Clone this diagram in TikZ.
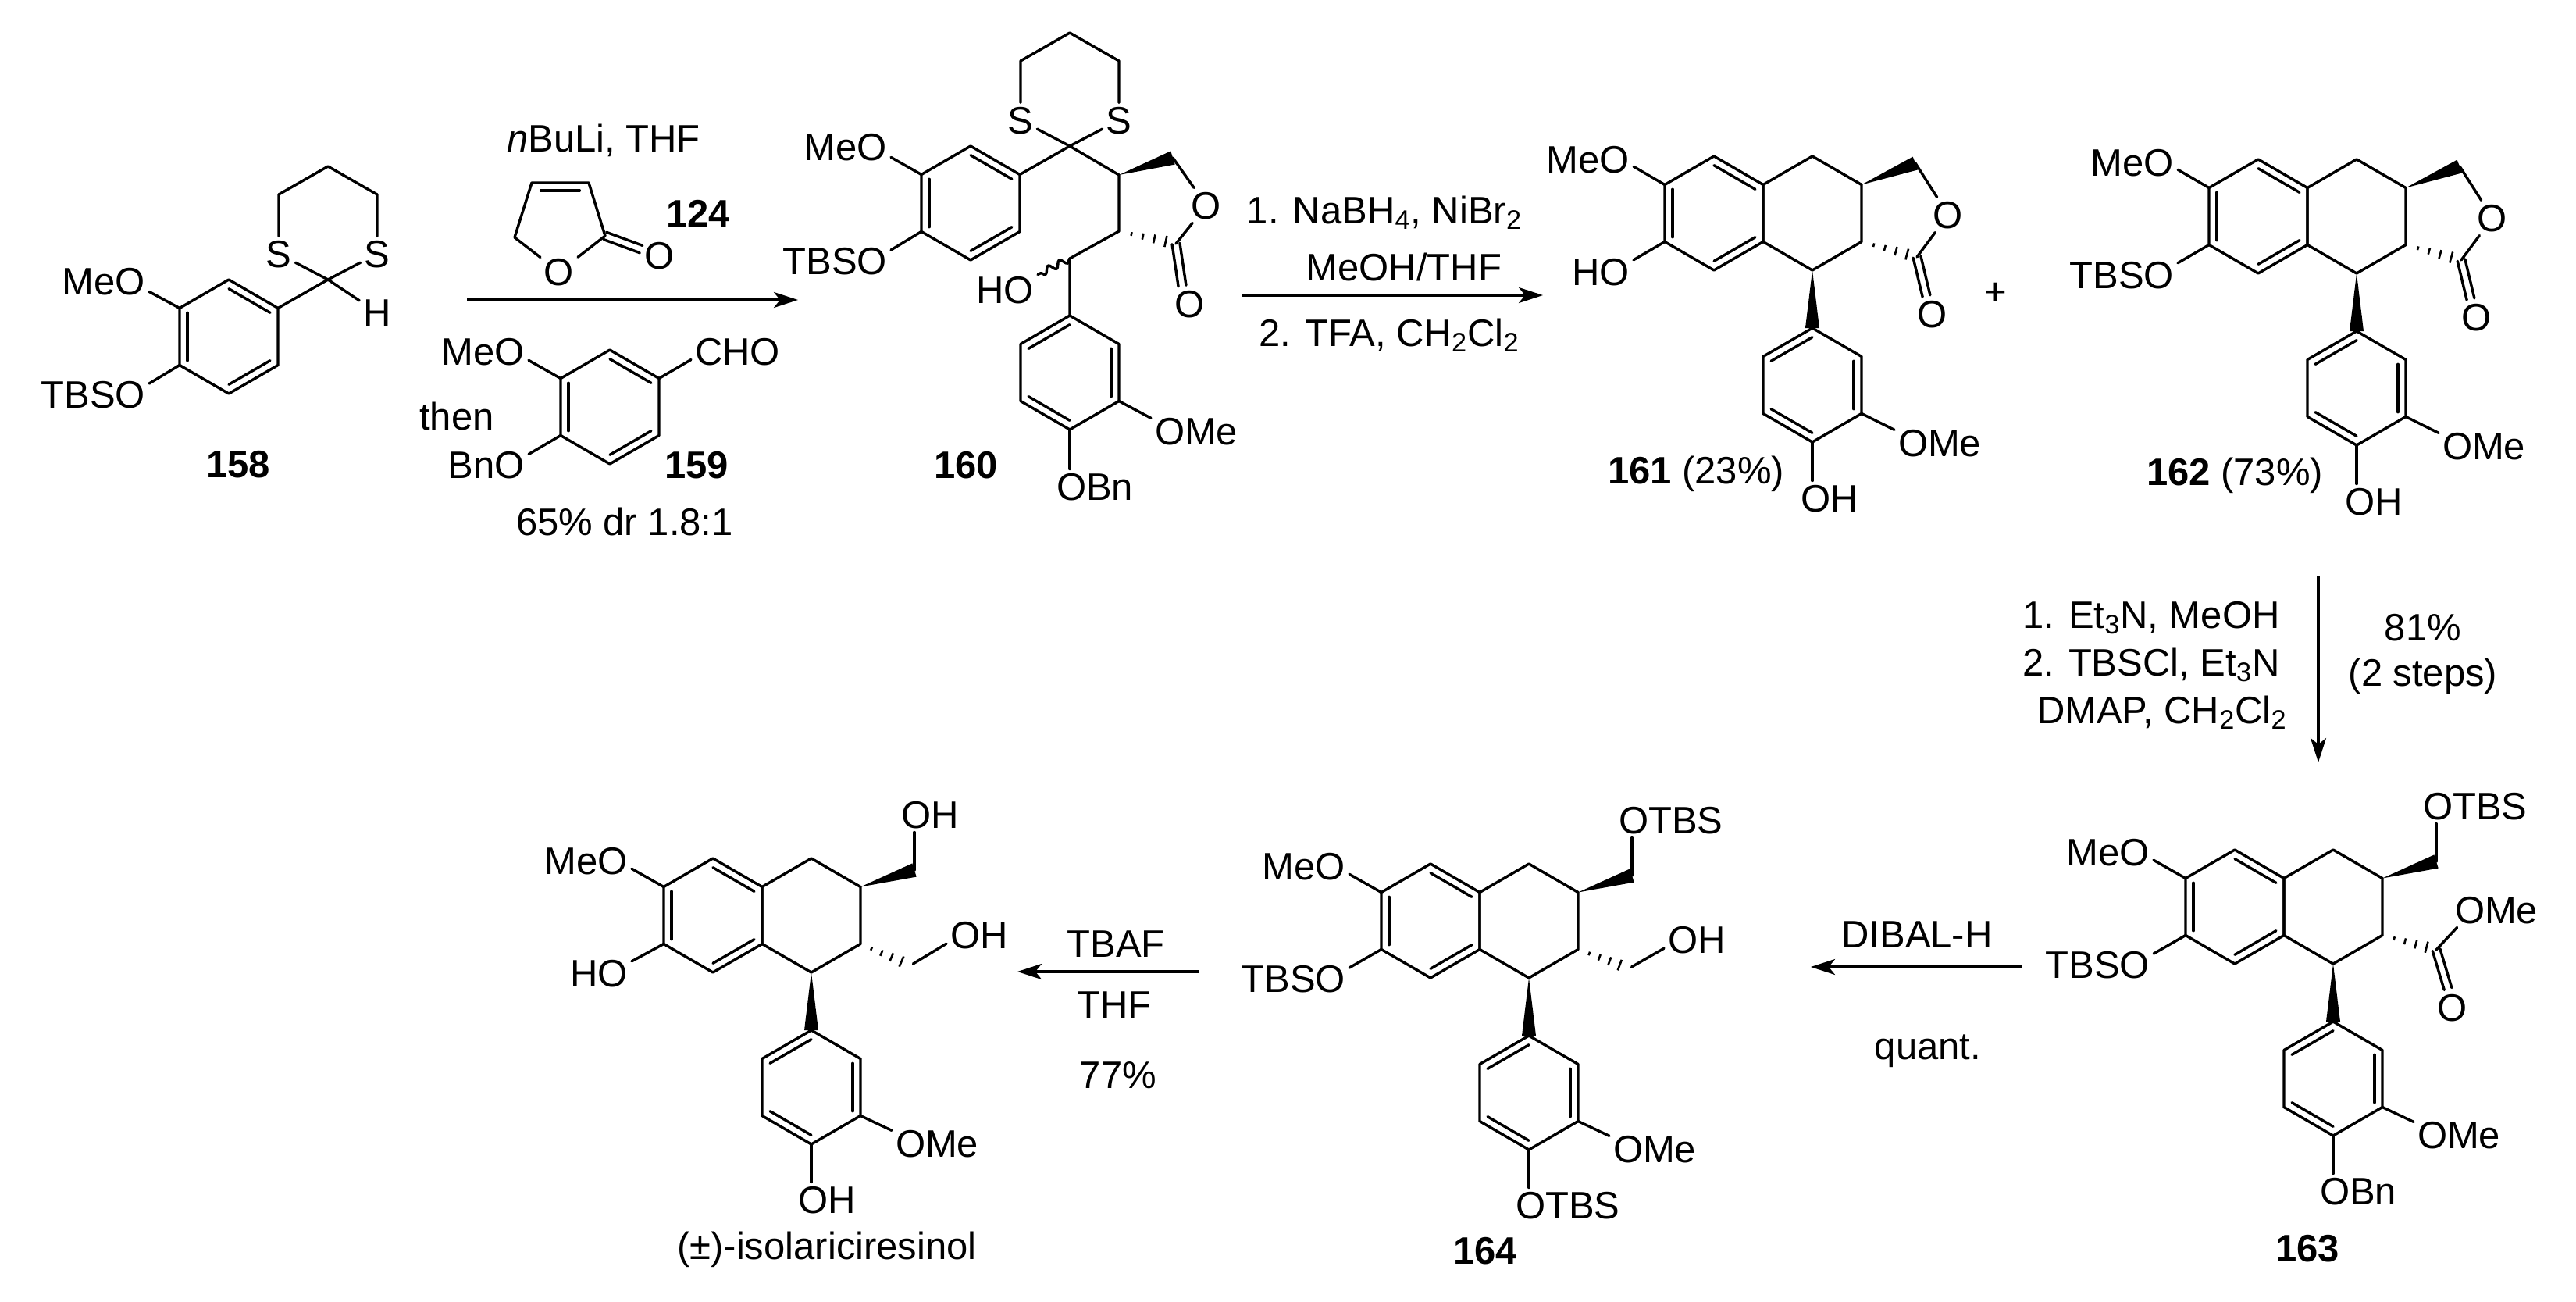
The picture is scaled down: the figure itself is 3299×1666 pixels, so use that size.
\documentclass[tikz,border=0pt]{standalone}
\usepackage{fontspec}
\setmainfont{Liberation Sans}
\usetikzlibrary{calc,positioning,arrows.meta,decorations.pathmorphing}
\tikzset{
    atom/.style={
        inner sep=2.5pt,
        outer sep=0pt,
        text height=17.5pt,
        text depth=0pt,
        font=\fontsize{24.5}{29}\selectfont,
    },
    num/.style={
        atom,
        font=\fontsize{24.5}{29}\selectfont\bfseries,
    },
    bond/.style={
        line width=1.7pt,
        line join=round,
        line cap=round,
    },
    rxn/.style={
        line width=1.7pt,
        -{Stealth[length=15.5pt,width=10pt,inset=4pt]},
    },
}
% ring with top corner at (#2,#3), corners a..f run clockwise
\newcommand\hexring[3]{
    \coordinate (#1) at (#2,{#3+73});
    \coordinate (#1a) at (#2,#3);
    \coordinate (#1b) at ({#2+63},{#3+36.5});
    \coordinate (#1c) at ({#2+63},{#3+109.5});
    \coordinate (#1d) at (#2,{#3+146});
    \coordinate (#1e) at ({#2-63},{#3+109.5});
    \coordinate (#1f) at ({#2-63},{#3+36.5});
    \draw[bond] (#1a) -- (#1b) -- (#1c) -- (#1d) -- (#1e) -- (#1f) -- cycle;
}
\newcommand\dblin[3]{\draw[bond] ($(#1#2)!.16!(#1)$) -- ($(#1#3)!.16!(#1)$);}
\newcommand\benzoa[1]{\dblin{#1}{a}{b}\dblin{#1}{c}{d}\dblin{#1}{e}{f}}
\newcommand\benzob[1]{\dblin{#1}{a}{f}\dblin{#1}{b}{c}\dblin{#1}{d}{e}}
\newcommand\dblout[2]{
    \draw[bond] ($(#1)!2.5pt!90:(#2)$) -- ($(#2)!2.5pt!-90:(#1)$);
    \draw[bond] ($(#1)!2.5pt!-90:(#2)$) -- ($(#2)!2.5pt!90:(#1)$);
}
\newcommand\wedgebond[2]{\fill (#1) -- ($(#2)!4.5pt!90:(#1)$) -- ($(#2)!4.5pt!-90:(#1)$) -- cycle;}
\newcommand\hashbond[2]{
    \foreach \t/\w in {.22/1.2pt,.42/2pt,.62/2.8pt,.82/3.6pt}{
        \draw[line width=1.3pt] ($(#1)!\t!(#2)!\w!90:(#2)$) -- ($(#1)!\t!(#2)!\w!-90:(#2)$);
    }
}
\newcommand\dithiane[3]{
    \coordinate (c#1) at (#2,#3);
    \node[atom] (sl#1) at ({#2-63},{#3-33}) {S};
    \node[atom] (sr#1) at ({#2+63},{#3-33}) {S};
    \draw[bond] (sl#1) -- ({#2-63},{#3-109}) -- (#2,{#3-145}) -- ({#2+63},{#3-109}) -- (sr#1);
    \draw[bond] (sl#1) -- (c#1) -- (sr#1);
}
% the tricyclic lactones, drawn where the first one stands
\newcommand\lactonebody[3]{
    \hexring{r#1}{2195}{200}\benzoa{r#1}
    \hexring{q#1}{2321}{200}
    \hexring{p#1}{2321}{420}\benzob{p#1}
    \node[atom,anchor=east] (meo#1) at (2092,204) {MeO};
    \node[atom,anchor=east] (lo#1) at (2092,348) {#2};
    \node[atom] (ol#1) at (2495,275) {O};
    \node[atom] (oc#1) at (2475,402) {O};
    \node[atom,anchor=west] (ome#1) at (2426,567) {OMe};
    \node[atom,anchor=west] (oh#1) at (2301,638) {OH};
    \coordinate (w#1) at (2453,209);
    \coordinate (k#1) at (2455,329);
    \coordinate (e#1) at (2467,379);
    \draw[bond] (r#1f) -- (meo#1.-9);
    \draw[bond] (r#1e) -- (lo#1.#3);
    \wedgebond{q#1b}{w#1}
    \wedgebond{q#1d}{p#1a}
    \hashbond{q#1c}{k#1}
    \draw[bond] (w#1) -- (ol#1) -- (k#1);
    \dblout{k#1}{e#1}
    \draw[bond] (p#1c) -- (ome#1.164);
    \draw[bond] (p#1d) -- (p#1d |- oh#1.north);
}
% the open tetralins, (#2,#3) is the top corner of the benzo ring
\newcommand\tetralincore[7]{
    \hexring{r#1}{#2}{#3}\benzoa{r#1}
    \hexring{q#1}{#2+126}{#3}
    \hexring{p#1}{#2+126}{#3+220}\benzob{p#1}
    \node[atom,anchor=east] (meo#1) at ({#2-104},{#3+3}) {MeO};
    \node[atom,anchor=east] (lo#1) at ({#2-104},{#3+147}) {#4};
    \node[atom,anchor=west] (ome#1) at ({#2+229},{#3+365}) {OMe};
    \node[atom,anchor=west] (lw#1) at ({#2+104},{#3+437}) {#6};
    \node[atom,anchor=west] (up#1) at ({#2+236},{#3-56}) {#7};
    \coordinate (w#1) at ({#2+258},{#3+15});
    \draw[bond] (r#1f) -- (meo#1.-10);
    \draw[bond] (r#1e) -- (lo#1.#5);
    \wedgebond{q#1b}{w#1}
    \wedgebond{q#1d}{p#1a}
    \draw[bond] (w#1) -- (w#1 |- up#1.south);
    \draw[bond] (p#1c) -- (ome#1.164);
    \draw[bond] (p#1d) -- (p#1d |- lw#1.north);
}

\begin{document}
\begin{tikzpicture}[x=0.5pt,y=-0.5pt]
    \useasboundingbox (0,0) rectangle (3299,1666);

    % 158
    \hexring{r158}{293}{358}\benzoa{r158}
    \dithiane{158}{420}{358}
    \node[atom] (h158) at (483,400) {H};
    \node[atom,anchor=east] (meo158) at (191,360) {MeO};
    \node[atom,anchor=east] (tbs158) at (191,505) {TBSO};
    \node[num] (n158) at (305,594) {158};
    \draw[bond] (r158b) -- (c158) -- (h158);
    \draw[bond] (r158f) -- (meo158.-13);
    \draw[bond] (r158e) -- (tbs158.11);

    % first arrow with 124 and 159
    \coordinate (a1s) at (598,384);
    \coordinate (a1e) at (1022,384);
    \draw[rxn] (a1s) -- (a1e);
    \node[atom] (buli) at (773,177) {\textit{n}BuLi, THF};
    \node[atom] (o124) at (716,348) {O};
    \node[atom] (oc124) at (845,327) {O};
    \node[num] (n124) at (894,273) {124};
    \coordinate (l1) at (681,234);
    \coordinate (l2) at (754,234);
    \coordinate (l3) at (775,302);
    \coordinate (l4) at (659,304);
    \coordinate (l5) at (821,319);
    \draw[bond] (o124) -- (l4) -- (l1) -- (l2) -- (l3) -- (o124);
    \draw[bond] ($(l1)!.16!(l2)+(0,10)$) -- ($(l2)!.16!(l1)+(0,10)$);
    \dblout{l3}{l5}
    \hexring{r159}{781}{448}\benzoa{r159}
    \node[atom,anchor=east] (meo159) at (677,450) {MeO};
    \node[atom,anchor=east] (bno159) at (677,595) {BnO};
    \node[atom,anchor=west] (cho159) at (885,450) {CHO};
    \node[atom] (then) at (585,533) {then};
    \node[num] (n159) at (892,595) {159};
    \node[atom] (dr) at (800,668) {65\% dr 1.8:1};
    \draw[bond] (r159f) -- (meo159.-11);
    \draw[bond] (r159e) -- (bno159.14);
    \draw[bond] (r159b) -- (cho159.190);

    % 160
    \hexring{r160}{1243}{187}\benzoa{r160}
    \hexring{p160}{1370}{404}\benzob{p160}
    \dithiane{160}{1370}{187}
    \coordinate (m1) at (1433,224);
    \coordinate (m2) at (1433,296);
    \coordinate (m3) at (1370,331);
    \coordinate (w160) at (1502,202);
    \coordinate (k160) at (1506,312);
    \coordinate (e160) at (1514,366);
    \node[atom] (ol160) at (1545,263) {O};
    \node[atom] (oc160) at (1524,389) {O};
    \node[atom,anchor=east] (meo160) at (1141,188) {MeO};
    \node[atom,anchor=east] (tbs160) at (1141,334) {TBSO};
    \node[atom,anchor=east] (ho160) at (1329,371) {HO};
    \node[atom,anchor=west] (ome160) at (1474,552) {OMe};
    \node[atom,anchor=west] (bn160) at (1348,623) {OBn};
    \node[num] (n160) at (1237,595) {160};
    \draw[bond] (r160b) -- (c160) -- (m1) -- (m2) -- (m3) -- (p160a);
    \wedgebond{m1}{w160}
    \hashbond{m2}{k160}
    \draw[bond] (w160) -- (ol160) -- (k160);
    \dblout{k160}{e160}
    \draw[bond,decorate,decoration={snake,amplitude=2.2pt,segment length=8pt}] (m3) -- (ho160.25);
    \draw[bond] (r160f) -- (meo160.-13);
    \draw[bond] (r160e) -- (tbs160.11);
    \draw[bond] (p160c) -- (ome160.164);
    \draw[bond] (p160d) -- (p160d |- bn160.north);

    % second arrow
    \coordinate (a2s) at (1591,378);
    \coordinate (a2e) at (1976,378);
    \draw[rxn] (a2s) -- (a2e);
    \node[atom] (t21) at (1773,269) {1. NaBH\textsubscript{4}, NiBr\textsubscript{2}};
    \node[atom] (t22) at (1798,342) {MeOH/THF};
    \node[atom] (t23) at (1779,426) {2. TFA, CH\textsubscript{2}Cl\textsubscript{2}};

    % 161 and 162
    \lactonebody{161}{HO}{20}
    \node[num,anchor=west] (n161) at (2054,602) {161 \mdseries(23\%)};
    \node[atom] (plus) at (2556,373) {+};
    \begin{scope}[shift={(697,4)}]
        \lactonebody{162}{TBSO}{12}
    \end{scope}
    \node[num,anchor=west] (n162) at (2744,604) {162 \mdseries(73\%)};

    % third arrow
    \coordinate (a3s) at (2969,737);
    \coordinate (a3e) at (2969,976);
    \draw[rxn] (a3s) -- (a3e);
    \node[atom,anchor=west] (t31) at (2585,787) {1. Et\textsubscript{3}N, MeOH};
    \node[atom,anchor=west] (t32) at (2585,848) {2. TBSCl, Et\textsubscript{3}N};
    \node[atom,anchor=west] (t33) at (2604,909) {DMAP, CH\textsubscript{2}Cl\textsubscript{2}};
    \node[atom] (t34) at (3103,803) {81\%};
    \node[atom] (t35) at (3103,861) {(2 steps)};

    % 163
    \tetralincore{163}{2862}{1088}{TBSO}{11}{OBn}{OTBS}
    \coordinate (k163) at (3120,1216);
    \coordinate (e163) at (3135,1266);
    \node[atom,anchor=west] (oe163) at (3139,1165) {OMe};
    \node[atom] (oc163) at (3141,1290) {O};
    \node[num] (n163) at (2955,1598) {163};
    \hashbond{q163c}{k163}
    \draw[bond] (k163) -- (oe163.204);
    \dblout{k163}{e163}

    % fourth arrow
    \coordinate (a4s) at (2590,1238);
    \coordinate (a4e) at (2319,1238);
    \draw[rxn] (a4s) -- (a4e);
    \node[atom] (t41) at (2455,1196) {DIBAL-H};
    \node[atom] (t42) at (2469,1339) {quant.};

    % 164
    \tetralincore{164}{1832}{1106}{TBSO}{11}{OTBS}{OTBS}
    \coordinate (k164) at (2086,1240);
    \node[atom,anchor=west] (oh164) at (2131,1203) {OH};
    \node[num] (n164) at (1902,1601) {164};
    \hashbond{q164c}{k164}
    \draw[bond,shorten <=2pt] (k164) -- (oh164.195);

    % fifth arrow
    \coordinate (a5s) at (1536,1244);
    \coordinate (a5e) at (1303,1244);
    \draw[rxn] (a5s) -- (a5e);
    \node[atom] (t51) at (1429,1208) {TBAF};
    \node[atom] (t52) at (1427,1286) {THF};
    \node[atom] (t53) at (1432,1376) {77\%};

    % isolariciresinol
    \tetralincore{iso}{913}{1099}{HO}{20}{OH}{OH}
    \coordinate (kiso) at (1166,1236);
    \node[atom,anchor=west] (ohiso) at (1212,1197) {OH};
    \node[atom] (niso) at (1059,1595) {(±)-isolariciresinol};
    \hashbond{qisoc}{kiso}
    \draw[bond,shorten <=2pt] (kiso) -- (ohiso.195);
\end{tikzpicture}
\end{document}
